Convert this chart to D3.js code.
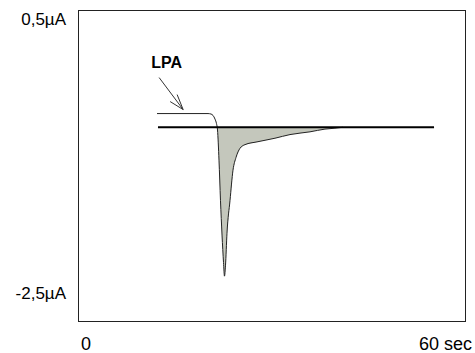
<!DOCTYPE html>
<html>
<head>
<meta charset="utf-8">
<script src="https://cdn.jsdelivr.net/npm/d3@7/dist/d3.min.js"></script>
<style>
  html, body { margin: 0; padding: 0; background: #fff; }
  svg { display: block; font-family: "Liberation Sans", Arial, sans-serif; }
</style>
</head>
<body>
<svg id="chart" width="475" height="353"></svg>
<script>
// Current trace (µA) against time (s)
const timeSec = [12.25, 20.16, 20.62, 20.93, 21.24, 21.47, 21.63, 21.86, 22.09, 22.33, 22.56, 22.71,
                 22.87, 23.1, 23.57, 24.03, 24.5, 25.12, 25.89, 27.75, 30.54, 32.87, 35.97, 38.29, 39.84, 41.09];
const currentUA = [-0.53, -0.53, -0.535, -0.55, -0.59, -0.64, -0.71, -1.04, -1.48, -1.86, -2.16, -2.31,
                   -2.19, -1.84, -1.48, -1.15, -1.01, -0.91, -0.87, -0.84, -0.80, -0.76, -0.73, -0.70, -0.69, -0.68];
// Resting level shown as a reference line
const baselineUA = -0.68;
const baselineSpan = [12.4, 55.2];
// Axis labels
const xTickValues = [0, 60];
const xTickLabels = ["0", "60 sec"];
const yTickValues = [0.5, -2.5];
const yTickLabels = ["0,5µA", "-2,5µA"];
const annotation = { text: "LPA", t: 16.3 };

const svg = d3.select("#chart");
const frame = { left: 78, top: 10, right: 465, bottom: 321 };

const x = d3.scaleLinear().domain([0, 60]).range([frame.left, frame.right]);
const y = d3.scaleLinear().domain([-2.5, 0.5]).range([293.5, 19.5]);

// Frame
svg.append("rect")
  .attr("x", frame.left + 0.5).attr("y", frame.top + 0.5)
  .attr("width", frame.right - frame.left).attr("height", frame.bottom - frame.top)
  .attr("fill", "none").attr("stroke", "#222").attr("stroke-width", 1);

const pts = timeSec.map((t, i) => ({ t, v: currentUA[i] }));

// Shaded part of the response below the resting level
const firstBelow = pts.findIndex(p => p.v < baselineUA);
const a = pts[firstBelow - 1], b = pts[firstBelow];
const tCross = a.t + (baselineUA - a.v) / (b.v - a.v) * (b.t - a.t);
const below = [{ t: tCross, v: baselineUA }].concat(pts.slice(firstBelow));

svg.append("path")
  .datum(below)
  .attr("d", d3.area().x(d => x(d.t)).y0(y(baselineUA)).y1(d => y(Math.min(d.v, baselineUA))))
  .attr("fill", "#c4c7bc")
  .attr("stroke", "none");

// Trace line
svg.append("path")
  .datum(pts)
  .attr("d", d3.line().x(d => x(d.t)).y(d => y(d.v)).curve(d3.curveMonotoneX))
  .attr("fill", "none")
  .attr("stroke", "#222")
  .attr("stroke-width", 1);

// Resting level line
svg.append("line")
  .attr("x1", x(baselineSpan[0])).attr("x2", x(baselineSpan[1]))
  .attr("y1", y(baselineUA)).attr("y2", y(baselineUA))
  .attr("stroke", "#000").attr("stroke-width", 2);

// Annotation arrow pointing at the trace
const lpaLevel = currentUA[0];
const tipX = x(annotation.t), tipY = y(lpaLevel) - 4;
const tailX = tipX - 24, tailY = tipY - 32;
svg.append("line")
  .attr("x1", tailX).attr("y1", tailY).attr("x2", tipX).attr("y2", tipY)
  .attr("stroke", "#333").attr("stroke-width", 1);
svg.append("path")
  .attr("d", `M${tipX - 13},${tipY - 8} L${tipX},${tipY} L${tipX - 6},${tipY - 15}`)
  .attr("fill", "none").attr("stroke", "#333").attr("stroke-width", 1);
svg.append("text")
  .attr("x", tailX - 8).attr("y", tailY - 10)
  .attr("font-size", 16).attr("font-weight", "bold").attr("fill", "#000")
  .text(annotation.text);

// Y labels
svg.selectAll("text.ylab")
  .data(yTickValues)
  .enter().append("text")
  .attr("class", "ylab")
  .attr("x", 66)
  .attr("y", d => y(d) + 5.5)
  .attr("text-anchor", "end")
  .attr("font-size", 17)
  .attr("fill", "#000")
  .text((d, i) => yTickLabels[i]);

// X labels
svg.selectAll("text.xlab")
  .data(xTickValues)
  .enter().append("text")
  .attr("class", "xlab")
  .attr("x", (d, i) => i === 0 ? x(d) + 3 : x(d) + 7)
  .attr("y", 350)
  .attr("text-anchor", (d, i) => i === 0 ? "start" : "end")
  .attr("font-size", 18)
  .attr("fill", "#000")
  .text((d, i) => xTickLabels[i]);
</script>
</body>
</html>
